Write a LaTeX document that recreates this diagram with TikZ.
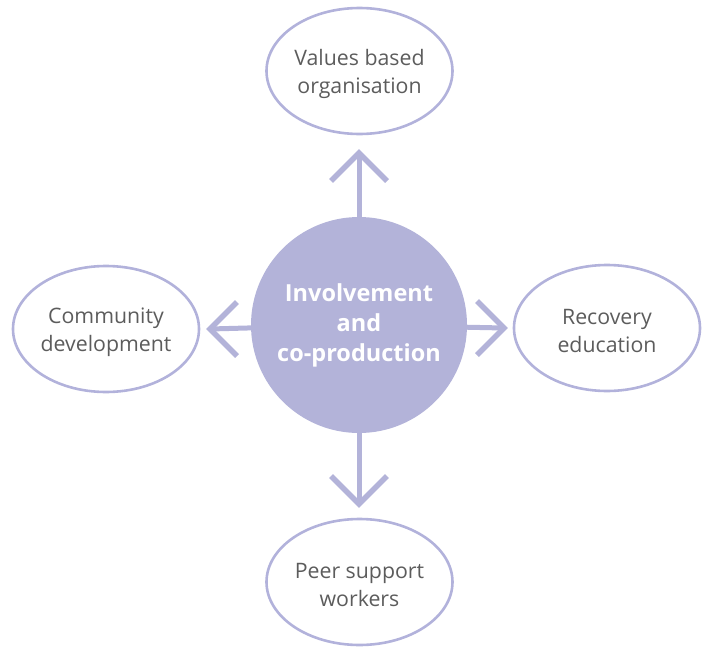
\documentclass[tikz,border=0pt]{standalone}
\usepackage{fontspec}
\setmainfont{Open Sans}
\usetikzlibrary{shapes.geometric}
\definecolor{lav}{HTML}{B3B3D9}
\definecolor{lavline}{HTML}{B2B2DB}
\definecolor{txt}{HTML}{5C5C5C}
% zero-width strut that makes a first line sit a little lower
\newcommand{\lowline}{\rule{0pt}{22pt}}
\begin{document}
\begin{tikzpicture}[x=1pt,y=-1pt,
  hub/.style={circle,fill=lav,minimum size=216pt,inner sep=0pt,
    text=white,font=\bfseries\fontsize{23.5}{30}\selectfont,align=center},
  topic/.style={ellipse,draw=lavline,line width=2.6pt,minimum width=186pt,
    minimum height=126pt,inner sep=0pt,text=txt,
    font=\fontsize{21.3}{28}\selectfont,align=center},
  stem/.style={draw=lav,line width=5pt},
  chev/.style={draw=lav,line width=5.5pt,line join=miter}]
\useasboundingbox (0,0) rectangle (705,648);
% central hub
\node[hub] (c) at (359,325) {Involvement\\and\\co-production};
% surrounding topics
\node[topic] (vb) at (359.5,71) {\lowline Values based\\organisation};
\node[topic] (cd) at (106,329) {\lowline Community\\development};
\node[topic] (re) at (607,328) {\lowline Recovery\\education};
\node[topic] (ps) at (359.5,582) {\lowline Peer support\\workers};
% arrow tips, just short of each topic
\coordinate (tu) at (359,153);
\coordinate (tl) at (210,329);
\coordinate (tr) at (504,328);
\coordinate (td) at (359,504);
% stems from the hub
\draw[stem] (c) -- (tu);
\draw[stem] (c) -- (tl);
\draw[stem] (c) -- (tr);
\draw[stem] (c) -- (td);
% open chevron heads
\draw[chev] (tu) ++(-28,28) -- (tu) -- ++(28,28);
\draw[chev] (tl) ++(27,-27) -- (tl) -- ++(27,27);
\draw[chev] (tr) ++(-27,-27) -- (tr) -- ++(-27,27);
\draw[chev] (td) ++(-28,-28) -- (td) -- ++(28,-28);
\end{tikzpicture}
\end{document}
